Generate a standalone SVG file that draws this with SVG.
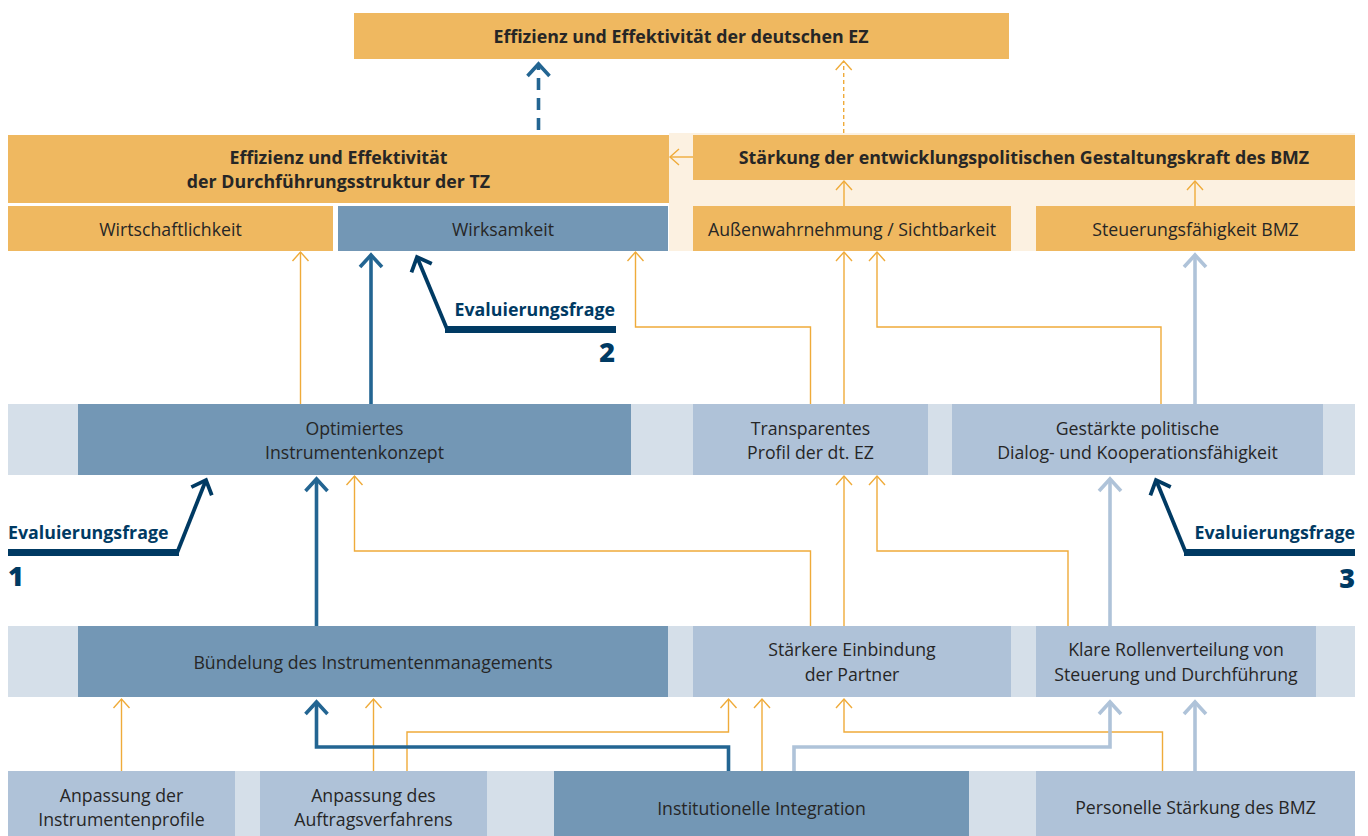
<svg xmlns="http://www.w3.org/2000/svg" width="1368" height="836" viewBox="0 0 1368 836">
<style>
.t{font-family:"Open Sans","Noto Sans","DejaVu Sans",sans-serif;font-size:17.7px;fill:#262626;text-anchor:middle}
.b{font-weight:700;font-size:17.8px}
.or{fill:#efb860}
.st{fill:#7397b5}
.lb{fill:#afc2d8}
.bar{fill:#d5dfe9}
.co{fill:none;stroke:#efab3a;stroke-width:1.4}
.cb{fill:none;stroke:#236592;stroke-width:3.6}
.cl{fill:none;stroke:#afc3d9;stroke-width:3.6}
.ev{font-family:"Open Sans","Noto Sans","DejaVu Sans",sans-serif;font-size:17.8px;font-weight:700;fill:#003a63}
.num{font-family:"Open Sans","Noto Sans","DejaVu Sans",sans-serif;font-size:27px;font-weight:800;fill:#003a63}
</style>
<defs>
<marker id="ao" markerUnits="userSpaceOnUse" orient="auto" overflow="visible" markerWidth="1" markerHeight="1" refX="0" refY="0"><path d="M-9,-8 L0,0 L-9,8" fill="none" stroke="#efab3a" stroke-width="1.4"/></marker>
<marker id="ab" markerUnits="userSpaceOnUse" orient="auto" overflow="visible" markerWidth="1" markerHeight="1" refX="0" refY="0"><path d="M-12,-11 L0,0 L-12,11" fill="none" stroke="#236592" stroke-width="3.6"/></marker>
<marker id="al" markerUnits="userSpaceOnUse" orient="auto" overflow="visible" markerWidth="1" markerHeight="1" refX="0" refY="0"><path d="M-12,-11 L0,0 L-12,11" fill="none" stroke="#afc3d9" stroke-width="3.6"/></marker>
<marker id="an" markerUnits="userSpaceOnUse" orient="auto" overflow="visible" markerWidth="1" markerHeight="1" refX="0" refY="0"><path d="M-12,-11 L0,0 L-12,11" fill="none" stroke="#003a63" stroke-width="3.8"/></marker>
</defs>

<g id="backgrounds">
<rect x="669" y="133" width="686" height="118" fill="#fcf1e1"/>
<rect class="bar" x="8" y="404" width="1347" height="71"/>
<rect class="bar" x="8" y="626" width="1347" height="71"/>
<rect class="bar" x="8" y="771" width="1347" height="65"/>
</g>

<g id="n-top"><rect class="or" x="354" y="13" width="655" height="46"/><text class="t b" x="681" y="43">Effizienz und Effektivität der deutschen EZ</text></g>
<g id="n-tz"><rect class="or" x="8" y="135" width="661" height="68"/><text class="t b" x="338.5" y="164">Effizienz und Effektivität</text><text class="t b" x="338.5" y="188">der Durchführungsstruktur der TZ</text></g>
<g id="n-bmz"><rect class="or" x="693" y="135" width="662" height="45"/><text class="t b" x="1024" y="164">Stärkung der entwicklungspolitischen Gestaltungskraft des BMZ</text></g>
<g id="n-wirtschaft"><rect class="or" x="8" y="206" width="325" height="45"/><text class="t" x="170.5" y="236">Wirtschaftlichkeit</text></g>
<g id="n-wirksam"><rect class="st" x="338" y="206" width="330" height="45"/><text class="t" x="503" y="236">Wirksamkeit</text></g>
<g id="n-aussen"><rect class="or" x="693" y="206" width="318" height="45"/><text class="t" x="852" y="236">Außenwahrnehmung / Sichtbarkeit</text></g>
<g id="n-steuerung"><rect class="or" x="1036" y="206" width="319" height="45"/><text class="t" x="1195.5" y="236">Steuerungsfähigkeit BMZ</text></g>

<g id="n-optim"><rect class="st" x="78" y="404" width="553" height="71"/><text class="t" x="354.5" y="435">Optimiertes</text><text class="t" x="354.5" y="459">Instrumentenkonzept</text></g>
<g id="n-transp"><rect class="lb" x="693" y="404" width="235" height="71"/><text class="t" x="810.5" y="435">Transparentes</text><text class="t" x="810.5" y="459">Profil der dt. EZ</text></g>
<g id="n-dialog"><rect class="lb" x="952" y="404" width="371" height="71"/><text class="t" x="1137.5" y="435">Gestärkte politische</text><text class="t" x="1137.5" y="459">Dialog- und Kooperationsfähigkeit</text></g>

<g id="n-buendel"><rect class="st" x="78" y="626" width="590" height="71"/><text class="t" x="373" y="669">Bündelung des Instrumentenmanagements</text></g>
<g id="n-partner"><rect class="lb" x="693" y="626" width="318" height="71"/><text class="t" x="852" y="656">Stärkere Einbindung</text><text class="t" x="852" y="681">der Partner</text></g>
<g id="n-rollen"><rect class="lb" x="1036" y="626" width="280" height="71"/><text class="t" x="1176" y="656">Klare Rollenverteilung von</text><text class="t" x="1176" y="681">Steuerung und Durchführung</text></g>

<g id="n-anp1"><rect class="lb" x="8" y="771" width="227" height="65"/><text class="t" x="121.5" y="802">Anpassung der</text><text class="t" x="121.5" y="826">Instrumentenprofile</text></g>
<g id="n-anp2"><rect class="lb" x="260" y="771" width="227" height="65"/><text class="t" x="373.5" y="802">Anpassung des</text><text class="t" x="373.5" y="826">Auftragsverfahrens</text></g>
<g id="n-inst"><rect class="st" x="554" y="771" width="415" height="65"/><text class="t" x="761.5" y="815">Institutionelle Integration</text></g>
<g id="n-pers"><rect class="lb" x="1036" y="771" width="319" height="65"/><text class="t" x="1195.5" y="814">Personelle Stärkung des BMZ</text></g>

<g id="connectors">
<path class="co" d="M843.7,133 V61" stroke-dasharray="4 3" marker-end="url(#ao)"/>
<path class="co" d="M693,157 H670" marker-end="url(#ao)"/>
<path class="co" d="M844,206 V181" marker-end="url(#ao)"/>
<path class="co" d="M1195,206 V181" marker-end="url(#ao)"/>
<path class="co" d="M300.5,404 V252" marker-end="url(#ao)"/>
<path class="co" d="M810.5,404 V327 H635.5 V252" marker-end="url(#ao)"/>
<path class="co" d="M844,404 V252" marker-end="url(#ao)"/>
<path class="co" d="M1161,404 V327 H877 V252" marker-end="url(#ao)"/>
<path class="co" d="M810.5,626 V551 H354.5 V476" marker-end="url(#ao)"/>
<path class="co" d="M844,626 V476" marker-end="url(#ao)"/>
<path class="co" d="M1068,626 V551 H877 V476" marker-end="url(#ao)"/>
<path class="co" d="M121.5,771 V699" marker-end="url(#ao)"/>
<path class="co" d="M373.5,771 V699" marker-end="url(#ao)"/>
<path class="co" d="M407,771 V732 H728.5 V699" marker-end="url(#ao)"/>
<path class="co" d="M762,771 V699" marker-end="url(#ao)"/>
<path class="co" d="M1162.5,771 V732 H844 V699" marker-end="url(#ao)"/>

<path class="cb" d="M538.5,130 V64" stroke-dasharray="12 8" marker-end="url(#ab)"/>
<path class="cb" d="M371,404 V255" marker-end="url(#ab)"/>
<path class="cb" d="M316.5,626 V479" marker-end="url(#ab)"/>
<path class="cb" d="M728.5,771 V747 H316.5 V702" marker-end="url(#ab)"/>

<path class="cl" d="M1195,404 V255" marker-end="url(#al)"/>
<path class="cl" d="M1110,626 V479" marker-end="url(#al)"/>
<path class="cl" d="M794,771 V747 H1110 V702" marker-end="url(#al)"/>
<path class="cl" d="M1195,771 V702" marker-end="url(#al)"/>
</g>

<g id="eval1">
<rect x="8" y="549" width="171" height="7" fill="#003a63"/>
<path d="M177,553 L206,480" fill="none" stroke="#003a63" stroke-width="3.8" marker-end="url(#an)"/>
<text class="ev" x="8" y="539">Evaluierungsfrage</text>
<text class="num" x="8" y="586">1</text>
</g>
<g id="eval2">
<rect x="445" y="326" width="171" height="7" fill="#003a63"/>
<path d="M447,329 L417,257" fill="none" stroke="#003a63" stroke-width="3.8" marker-end="url(#an)"/>
<text class="ev" x="615" y="316" text-anchor="end">Evaluierungsfrage</text>
<text class="num" x="615" y="362" text-anchor="end">2</text>
</g>
<g id="eval3">
<rect x="1184" y="549" width="171" height="7" fill="#003a63"/>
<path d="M1186,553 L1156,480" fill="none" stroke="#003a63" stroke-width="3.8" marker-end="url(#an)"/>
<text class="ev" x="1355" y="539" text-anchor="end">Evaluierungsfrage</text>
<text class="num" x="1355" y="588" text-anchor="end">3</text>
</g>
</svg>
